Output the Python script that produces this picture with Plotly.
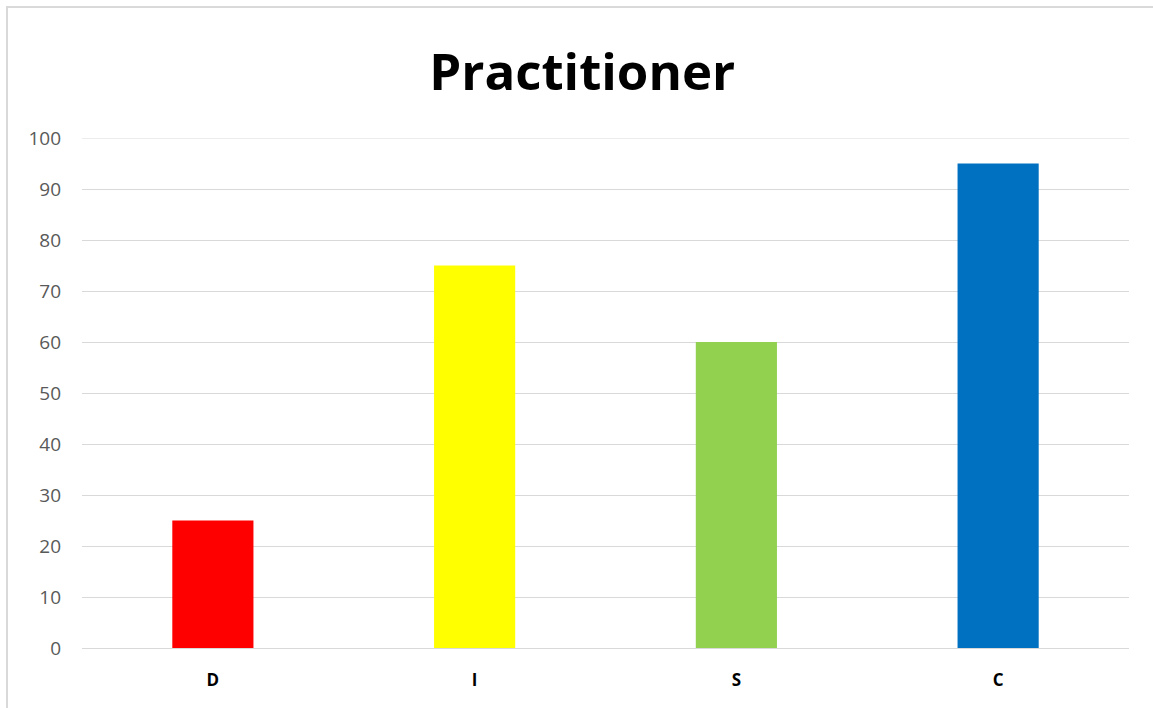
import plotly.graph_objects as go

categories = ["D", "I", "S", "C"]
scores = [25, 75, 60, 95]
bar_colors = ["#FF0000", "#FFFF00", "#92D050", "#0070C0"]
tick_values = list(range(0, 101, 10))

W, H = 1153, 708
ML, MR, MT, MB = 82, 24, 138, 60

fig = go.Figure(
    go.Bar(
        x=categories,
        y=scores,
        marker=dict(color=bar_colors, line=dict(width=0)),
        hoverinfo="x+y",
    )
)

plot_w = W - ML - MR
plot_h = H - MT - MB

# light grey chart-area frame (runs off the right and bottom edges)
fig.add_shape(
    type="rect",
    xref="paper", yref="paper",
    x0=(7 - ML) / plot_w, x1=(W + 20 - ML) / plot_w,
    y0=-(MB + 20) / plot_h, y1=(plot_h + MT - 7) / plot_h,
    line=dict(color="#D9D9D9", width=2),
    fillcolor="rgba(0,0,0,0)",
    layer="below",
)

# keep the 100 gridline visible at the top edge
fig.add_hline(y=100, line=dict(color="#D9D9D9", width=1), layer="below")

fig.update_layout(
    width=W,
    height=H,
    margin=dict(l=ML, r=MR, t=MT, b=MB),
    paper_bgcolor="white",
    plot_bgcolor="white",
    bargap=0.69,
    showlegend=False,
    title=dict(
        text="<b>Practitioner</b>",
        x=0.505,
        xanchor="center",
        y=1 - 72 / H,
        yanchor="middle",
        font=dict(family="Open Sans, Lato, sans-serif", size=51, color="#000000"),
    ),
    xaxis=dict(
        showgrid=False,
        showline=False,
        zeroline=False,
        ticks="",
        ticklabelstandoff=20,
        tickfont=dict(family="Open Sans, sans-serif", size=17, color="#000000", weight="bold"),
    ),
    yaxis=dict(
        range=[0, 100],
        tickvals=tick_values,
        showgrid=True,
        gridcolor="#D9D9D9",
        gridwidth=1,
        zeroline=True,
        zerolinecolor="#D9D9D9",
        zerolinewidth=1,
        showline=False,
        ticks="",
        ticklabelstandoff=20,
        tickfont=dict(family="Open Sans, sans-serif", size=19, color="#595959"),
    ),
)

fig.write_html("out.html")
